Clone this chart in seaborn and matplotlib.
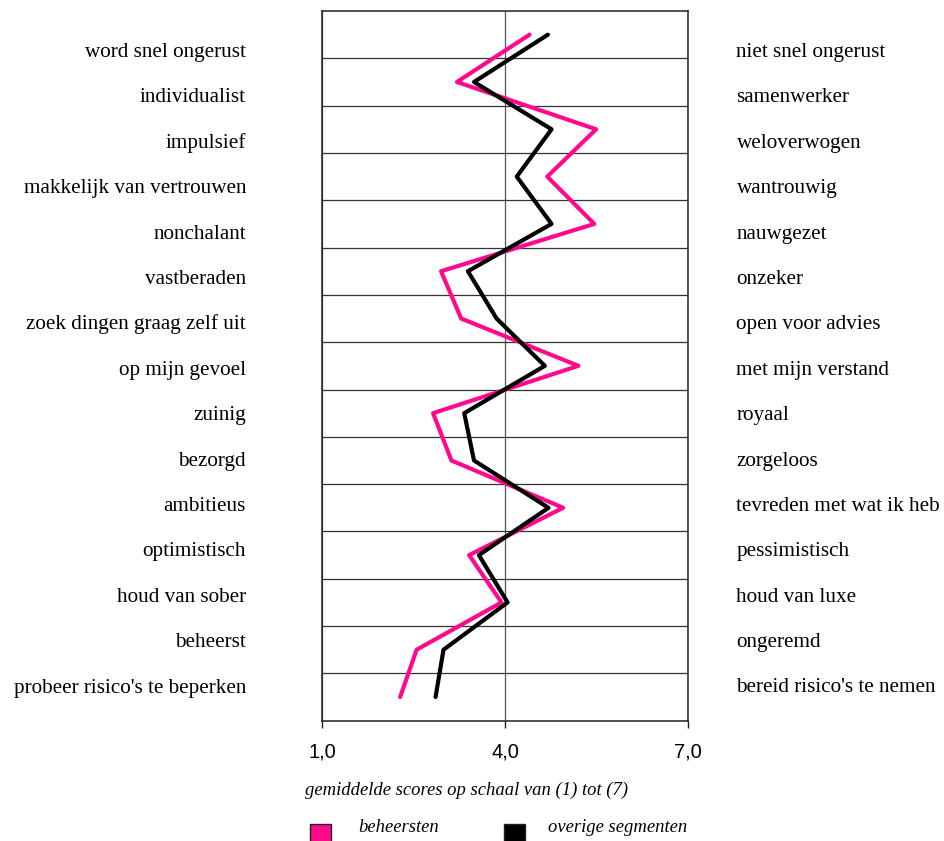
import numpy as np
import pandas as pd
import matplotlib
matplotlib.use("Agg")
import matplotlib.pyplot as plt
from matplotlib.patches import Rectangle
import seaborn as sns

# Semantic differential: left pole, right pole, mean scores on 1..7 scale
left_labels = [
    "word snel ongerust", "individualist", "impulsief", "makkelijk van vertrouwen",
    "nonchalant", "vastberaden", "zoek dingen graag zelf uit", "op mijn gevoel",
    "zuinig", "bezorgd", "ambitieus", "optimistisch", "houd van sober",
    "beheerst", "probeer risico's te beperken",
]
right_labels = [
    "niet snel ongerust", "samenwerker", "weloverwogen", "wantrouwig",
    "nauwgezet", "onzeker", "open voor advies", "met mijn verstand",
    "royaal", "zorgeloos", "tevreden met wat ik heb", "pessimistisch",
    "houd van luxe", "ongeremd", "bereid risico's te nemen",
]
beheersten = [4.40, 3.21, 5.49, 4.69, 5.46, 2.95, 3.28, 5.20, 2.82, 3.12,
              4.95, 3.41, 3.94, 2.55, 2.28]
overige = [4.70, 3.49, 4.76, 4.19, 4.76, 3.39, 3.86, 4.65, 3.33, 3.49,
           4.71, 3.57, 4.04, 2.99, 2.86]
x_ticks = [1.0, 4.0, 7.0]
x_tick_labels = ["1,0", "4,0", "7,0"]
series_names = ["beheersten", "overige segmenten"]
colors = {"beheersten": "#FF0A8C", "overige segmenten": "#000000"}

n = len(left_labels)
df = pd.DataFrame({
    "score": beheersten + overige,
    "item": list(range(n)) * 2,
    "groep": [series_names[0]] * n + [series_names[1]] * n,
})

sns.set_theme(style="white")
plt.rcParams["text.color"] = "black"
serif = ["Liberation Serif", "DejaVu Serif"]
sans = ["Liberation Sans", "DejaVu Sans"]

W, H = 944, 841
fig = plt.figure(figsize=(W / 100, H / 100), dpi=100)
ax_l, ax_r, ax_t, ax_b = 322, 688.3, 11, 720.7
ax = fig.add_axes([ax_l / W, 1 - ax_b / H, (ax_r - ax_l) / W, (ax_b - ax_t) / H])

sns.lineplot(data=df, x="score", y="item", hue="groep", palette=colors,
             sort=False, orient="y", estimator=None, linewidth=3.0,
             legend=False, ax=ax, zorder=3)

ax.set_xlim(1, 7)
ax.set_ylim(n - 0.5, -0.5)
ax.set_xticks(x_ticks)
ax.set_xticklabels(x_tick_labels, fontsize=14.5, family=sans, color="black")
ax.set_yticks([])
ax.set_yticks(np.arange(0.5, n - 0.5, 1.0), minor=True)
ax.tick_params(axis="y", which="both", left=False, labelleft=False)
ax.tick_params(axis="x", which="major", bottom=True, direction="out",
               length=5, width=1, color="#222222", pad=11)
ax.grid(False)
ax.grid(True, which="minor", axis="y", color="#333333", linewidth=0.9)
ax.grid(True, which="major", axis="x", color="#555555", linewidth=0.9)
ax.set_xlabel("")
ax.set_ylabel("")
for s in ax.spines.values():
    s.set_visible(True)
    s.set_color("#222222")
    s.set_linewidth(1.1)

# Pole labels on both sides (baselines evenly spaced)
ys = np.linspace(57, 692.5, n)
for lab, y in zip(left_labels, ys):
    fig.text(246 / W, 1 - y / H, lab, ha="right", va="baseline",
             fontsize=15.2, family=serif, color="black")
for lab, y in zip(right_labels, ys):
    fig.text(736.5 / W, 1 - y / H, lab, ha="left", va="baseline",
             fontsize=15.2, family=serif, color="black")

fig.text(305 / W, 1 - 790 / H, "gemiddelde scores op schaal van (1) tot (7)",
         ha="left", va="center", fontsize=13.4, family=serif, style="italic",
         color="black")

# Legend
for (x0, name, tx) in [(310, series_names[0], 358), (504, series_names[1], 548)]:
    fig.patches.append(Rectangle((x0 / W, 1 - 845 / H), 21 / W, 21 / H,
                                 transform=fig.transFigure, facecolor=colors[name],
                                 edgecolor="#222222", linewidth=1.0))
    fig.text(tx / W, 1 - 828 / H, name, ha="left", va="center",
             fontsize=13.4, family=serif, style="italic", color="black")

fig.savefig("out.png", dpi=100, facecolor="white")
